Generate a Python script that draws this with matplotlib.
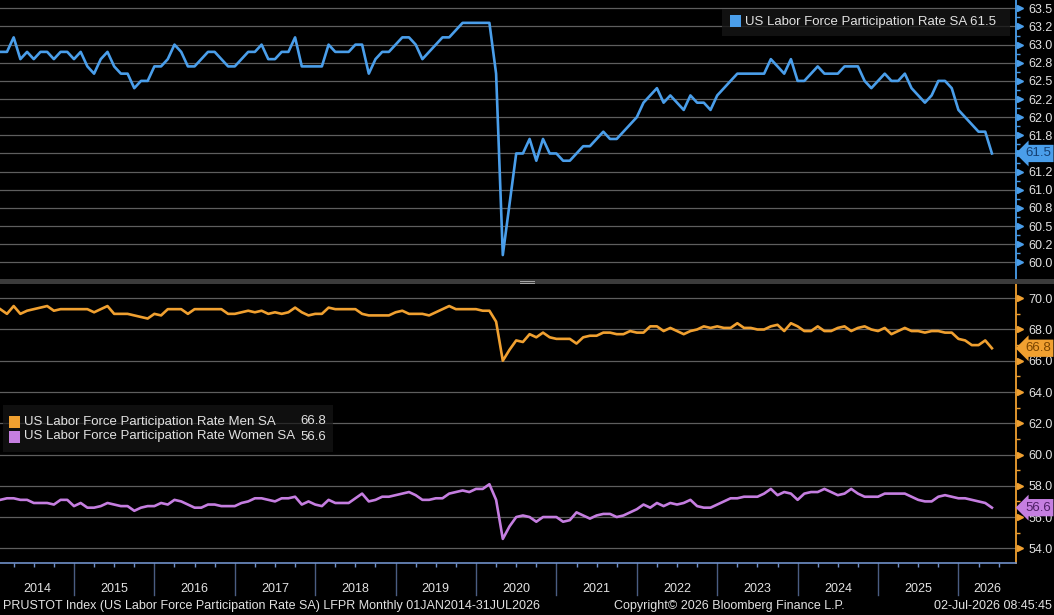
import numpy as np
import matplotlib
matplotlib.use('Agg')
import matplotlib.pyplot as plt
import matplotlib.transforms as mtransforms
from matplotlib.patches import Rectangle

# monthly values, Jan 2014 .. May 2026
lfpr_total = [
    62.9, 62.9, 63.1, 62.8, 62.9, 62.8, 62.9, 62.9, 62.8, 62.9, 62.9, 62.8,  # 2014
    62.9, 62.7, 62.6, 62.8, 62.9, 62.7, 62.6, 62.6, 62.4, 62.5, 62.5, 62.7,  # 2015
    62.7, 62.8, 63.0, 62.9, 62.7, 62.7, 62.8, 62.9, 62.9, 62.8, 62.7, 62.7,  # 2016
    62.8, 62.9, 62.9, 63.0, 62.8, 62.8, 62.9, 62.9, 63.1, 62.7, 62.7, 62.7,  # 2017
    62.7, 63.0, 62.9, 62.9, 62.9, 63.0, 63.0, 62.6, 62.8, 62.9, 62.9, 63.0,  # 2018
    63.1, 63.1, 63.0, 62.8, 62.9, 63.0, 63.1, 63.1, 63.2, 63.3, 63.3, 63.3,  # 2019
    63.3, 63.3, 62.6, 60.1, 60.8, 61.5, 61.5, 61.7, 61.4, 61.7, 61.5, 61.5,  # 2020
    61.4, 61.4, 61.5, 61.6, 61.6, 61.7, 61.8, 61.7, 61.7, 61.8, 61.9, 62.0,  # 2021
    62.2, 62.3, 62.4, 62.2, 62.3, 62.2, 62.1, 62.3, 62.2, 62.2, 62.1, 62.3,  # 2022
    62.4, 62.5, 62.6, 62.6, 62.6, 62.6, 62.6, 62.8, 62.7, 62.6, 62.8, 62.5,  # 2023
    62.5, 62.6, 62.7, 62.6, 62.6, 62.6, 62.7, 62.7, 62.7, 62.5, 62.4, 62.5,  # 2024
    62.6, 62.5, 62.5, 62.6, 62.4, 62.3, 62.2, 62.3, 62.5, 62.5, 62.4, 62.1,  # 2025
    62.0, 61.9, 61.8, 61.8, 61.5,                                            # 2026
]
lfpr_men = [
    69.3, 69.0, 69.5, 69.0, 69.2, 69.3, 69.4, 69.5, 69.2, 69.3, 69.3, 69.3,
    69.3, 69.3, 69.1, 69.3, 69.5, 69.0, 69.0, 69.0, 68.9, 68.8, 68.7, 69.0,
    68.9, 69.3, 69.3, 69.3, 69.0, 69.3, 69.3, 69.3, 69.3, 69.3, 69.0, 69.0,
    69.1, 69.2, 69.1, 69.2, 69.0, 69.1, 69.0, 69.1, 69.4, 69.1, 68.9, 69.0,
    69.0, 69.4, 69.3, 69.3, 69.3, 69.3, 69.0, 68.9, 68.9, 68.9, 68.9, 69.1,
    69.2, 69.0, 69.0, 69.0, 68.9, 69.1, 69.3, 69.5, 69.3, 69.3, 69.3, 69.3,
    69.2, 69.2, 68.5, 66.0, 66.7, 67.3, 67.2, 67.7, 67.5, 67.8, 67.5, 67.4,
    67.4, 67.4, 67.1, 67.5, 67.6, 67.6, 67.8, 67.8, 67.7, 67.7, 67.9, 67.8,
    67.8, 68.2, 68.2, 67.9, 68.1, 67.9, 67.7, 67.9, 68.0, 68.2, 68.1, 68.2,
    68.1, 68.1, 68.4, 68.1, 68.1, 68.0, 68.0, 68.2, 68.3, 67.9, 68.4, 68.2,
    67.9, 67.9, 68.2, 67.9, 67.9, 68.1, 68.2, 67.9, 68.1, 68.2, 68.0, 67.9,
    68.1, 67.7, 67.9, 68.1, 67.9, 67.9, 67.8, 67.9, 67.9, 67.8, 67.8, 67.4,
    67.3, 67.0, 67.0, 67.3, 66.8,
]
lfpr_women = [
    57.1, 57.2, 57.2, 57.1, 57.1, 56.9, 56.9, 56.9, 56.8, 57.1, 57.1, 56.7,
    56.9, 56.6, 56.6, 56.7, 56.9, 56.8, 56.7, 56.7, 56.4, 56.6, 56.7, 56.7,
    56.9, 56.8, 57.1, 57.0, 56.8, 56.6, 56.6, 56.8, 56.8, 56.7, 56.7, 56.7,
    56.9, 57.0, 57.2, 57.2, 57.1, 57.0, 57.2, 57.2, 57.3, 56.8, 57.0, 56.8,
    56.7, 57.1, 56.9, 56.9, 56.9, 57.2, 57.5, 57.0, 57.1, 57.3, 57.3, 57.4,
    57.5, 57.6, 57.4, 57.1, 57.1, 57.2, 57.2, 57.5, 57.6, 57.7, 57.6, 57.8,
    57.8, 58.1, 57.1, 54.6, 55.4, 56.0, 56.1, 56.0, 55.7, 56.0, 56.0, 56.0,
    55.7, 55.8, 56.3, 56.1, 55.9, 56.1, 56.2, 56.2, 56.0, 56.1, 56.3, 56.5,
    56.8, 56.6, 56.9, 56.7, 56.9, 56.8, 56.9, 57.1, 56.7, 56.6, 56.6, 56.8,
    57.0, 57.2, 57.2, 57.3, 57.3, 57.3, 57.5, 57.8, 57.4, 57.6, 57.5, 57.1,
    57.5, 57.6, 57.6, 57.8, 57.6, 57.4, 57.5, 57.8, 57.5, 57.3, 57.3, 57.3,
    57.5, 57.5, 57.5, 57.5, 57.3, 57.1, 57.0, 57.0, 57.3, 57.4, 57.3, 57.2,
    57.2, 57.1, 57.0, 56.9, 56.6,
]

name_total = 'US Labor Force Participation Rate SA'
name_men = 'US Labor Force Participation Rate Men SA'
name_women = 'US Labor Force Participation Rate Women SA'

years = list(range(2014, 2027))
top_ticks = [60.0, 60.25, 60.5, 60.75, 61.0, 61.25, 61.5, 61.75,
             62.0, 62.25, 62.5, 62.75, 63.0, 63.25, 63.5]
# 61.5 sits under the last-value tag, so the plain label is left blank
top_labels = ['60.0', '60.2', '60.5', '60.8', '61.0', '61.2', '', '61.8',
              '62.0', '62.2', '62.5', '62.8', '63.0', '63.2', '63.5']
bot_ticks = [54, 56, 58, 60, 62, 64, 66, 68, 70]
bot_labels = ['54.0', '56.0', '58.0', '60.0', '62.0', '64.0', '66.0', '68.0', '70.0']

footer_left = 'PRUSTOT Index (US Labor Force Participation Rate SA) LFPR Monthly 01JAN2014-31JUL2026'
footer_mid = 'Copyright\u00a9 2026 Bloomberg Finance L.P.'
footer_right = '02-Jul-2026 08:45:45'

# colours
BLUE = '#4a9eea'
ORANGE = '#f0a030'
PURPLE = '#c57ee0'
GRID = '#5e5e5e'
TXT = '#e2e2e2'
AXBLUE = '#6f8fc8'
DIV = '#4a5c82'

plt.rcParams['font.family'] = ['Liberation Sans', 'DejaVu Sans']

W, H = 1054, 615
fig = plt.figure(figsize=(W / 100, H / 100), dpi=100, facecolor='black')


def box(x0, y0, x1, y1):
    # pixel box (top-left origin) -> figure fraction rect
    return [x0 / W, 1 - y1 / H, (x1 - x0) / W, (y1 - y0) / H]


# month-end positions in decimal years
t = 2014 + (np.arange(len(lfpr_total)) + 1) / 12.0
XLIM = (2014.080, 2026.716)

ax1 = fig.add_axes(box(0, 0, 1016, 279))
ax2 = fig.add_axes(box(0, 284, 1016, 563))

for ax in (ax1, ax2):
    ax.set_facecolor('black')
    ax.set_xlim(*XLIM)
    for s in ('left', 'top', 'bottom'):
        ax.spines[s].set_visible(False)
    ax.yaxis.tick_right()

# top panel
ax1.plot(t, lfpr_total, color=BLUE, lw=1.9, zorder=3)
ax1.set_ylim(59.77, 63.615)
ax1.set_yticks(top_ticks)
ax1.set_yticklabels(top_labels)
ax1.set_yticks(np.array(top_ticks[:-1]) + 0.125, minor=True)
ax1.grid(axis='y', which='major', color=GRID, lw=0.9)
ax1.spines['right'].set_color(BLUE)
ax1.spines['right'].set_linewidth(1.3)
ax1.set_xticks([])

# bottom panel
ax2.plot(t, lfpr_men, color=ORANGE, lw=1.9, zorder=3)
ax2.plot(t, lfpr_women, color=PURPLE, lw=1.9, zorder=3)
ax2.set_ylim(53.06, 70.91)
ax2.set_yticks(bot_ticks)
ax2.set_yticklabels(bot_labels)
ax2.set_yticks(np.array(bot_ticks[:-1]) + 1, minor=True)
ax2.grid(axis='y', which='major', color=GRID, lw=0.9)
ax2.spines['right'].set_color(ORANGE)
ax2.spines['right'].set_linewidth(1.3)
ax2.spines['bottom'].set_visible(True)
ax2.spines['bottom'].set_color(AXBLUE)
ax2.spines['bottom'].set_linewidth(1.2)

for ax, col, ticks in ((ax1, BLUE, top_ticks), (ax2, ORANGE, bot_ticks)):
    ax.tick_params(axis='y', which='major', length=0, pad=9, labelsize=9, labelcolor=TXT)
    ax.tick_params(axis='y', which='minor', length=3, width=1, color=col, direction='out')
    # little triangles at the major ticks
    tr = mtransforms.blended_transform_factory(ax.transAxes, ax.transData)
    tr = mtransforms.offset_copy(tr, fig=fig, x=4, y=0, units='dots')
    ax.plot([1.0] * len(ticks), ticks, ls='none', marker='>', ms=4,
            color=col, transform=tr, clip_on=False, zorder=5)

# x axis: quarter ticks, year dividers and labels
quarters = [y + q for y in years for q in (0.25, 0.5, 0.75) if XLIM[0] < y + q < XLIM[1]]
ax2.set_xticks([])
ax2.set_xticks(quarters, minor=True)
ax2.tick_params(axis='x', which='minor', length=3, width=1, color=AXBLUE, direction='out')
xtr = mtransforms.blended_transform_factory(ax2.transData, ax2.transAxes)
for y in years[1:]:
    ax2.plot([y, y], [0, -32 / 279], color=DIV, lw=1, transform=xtr, clip_on=False)
for y in years:
    a, b = max(y, XLIM[0]), min(y + 1, XLIM[1])
    ax2.text((a + b) / 2, -26 / 279, str(y), transform=xtr, ha='center', va='center',
             color=TXT, fontsize=9)

# last value tags
for ax, val, col, tcol in ((ax1, lfpr_total[-1], BLUE, '#143f72'),
                           (ax2, lfpr_men[-1], ORANGE, '#7a4500'),
                           (ax2, lfpr_women[-1], PURPLE, '#4e1f66')):
    tr = mtransforms.blended_transform_factory(ax.transAxes, ax.transData)
    tr = mtransforms.offset_copy(tr, fig=fig, x=9, y=0, units='dots')
    ax.text(1.0, val, '%.1f' % val, transform=tr, ha='left', va='center',
            fontsize=9.5, color=tcol, zorder=10, clip_on=False,
            bbox=dict(boxstyle='larrow,pad=0.2', fc=col, ec='none'))

# panel separator
fig.patches.append(Rectangle((0, 1 - 284 / H), 1, 5 / H, transform=fig.transFigure,
                             fc='#3b3b3b', ec='none'))
for yy in (280.8, 282.6):
    fig.add_artist(plt.Line2D([520 / W, 534 / W], [1 - yy / H] * 2, color='#a8a8a8', lw=0.7))

# legends
fig.patches.append(Rectangle((722 / W, 1 - 36 / H), 288 / W, 27 / H, transform=fig.transFigure,
                             fc='#161616', ec='none', alpha=0.8, zorder=8))
fig.patches.append(Rectangle((730 / W, 1 - 27 / H), 11 / W, 12 / H, transform=fig.transFigure,
                             fc=BLUE, ec='none', zorder=9))
fig.text(745 / W, 1 - 21.5 / H, '%s %.1f' % (name_total, lfpr_total[-1]), color=TXT,
         fontsize=9.5, va='center', zorder=10)

fig.patches.append(Rectangle((3 / W, 1 - 452 / H), 330 / W, 47 / H, transform=fig.transFigure,
                             fc='#161616', ec='none', alpha=0.7, zorder=8))
for yc, col, name, val in ((421.5, ORANGE, name_men, lfpr_men[-1]),
                           (436.5, PURPLE, name_women, lfpr_women[-1])):
    fig.patches.append(Rectangle((9 / W, 1 - (yc + 6) / H), 11 / W, 12 / H,
                                 transform=fig.transFigure, fc=col, ec='none', zorder=9))
    fig.text(24 / W, 1 - yc / H, name, color=TXT, fontsize=9.5, va='center', zorder=10)
    fig.text(326 / W, 1 - yc / H, '%.1f' % val, color=TXT, fontsize=9.5, va='center',
             ha='right', zorder=10)

# footer
fig.text(3 / W, 1 - 606 / H, footer_left, color=TXT, fontsize=9, va='center')
fig.text(614 / W, 1 - 606 / H, footer_mid, color=TXT, fontsize=9, va='center')
fig.text(1052 / W, 1 - 606 / H, footer_right, color=TXT, fontsize=9, va='center', ha='right')

fig.savefig('out.png', dpi=100, facecolor='black')
